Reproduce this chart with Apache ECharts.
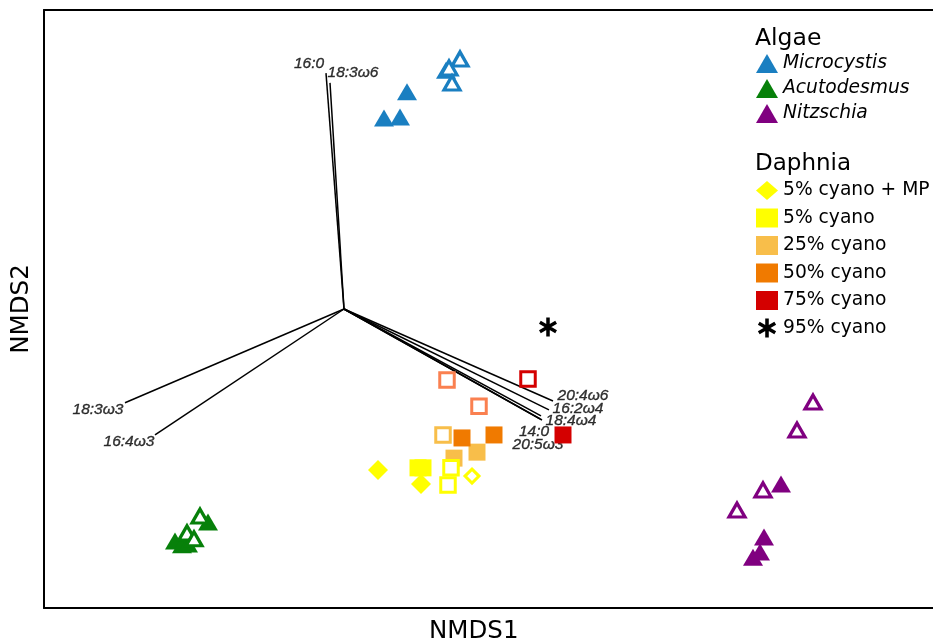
<!DOCTYPE html>
<html><head><meta charset="utf-8">
<script src="https://cdn.jsdelivr.net/npm/echarts/dist/echarts.min.js"></script>
<style>html,body{margin:0;padding:0;background:#fff}#c{width:933px;height:644px}</style>
</head><body><div id="c"></div>
<script>
// ---------- data (NMDS coordinates) ----------
const microcystisFilled = [[-0.274, 0.581], [-0.320, 0.511], [-0.288, 0.514], [-0.196, 0.639]];
const microcystisOpen   = [[-0.168, 0.669], [-0.190, 0.645], [-0.184, 0.605]];
const acutodesmusFilled = [[-0.738, -0.621], [-0.724, -0.631], [-0.712, -0.629], [-0.672, -0.570]];
const acutodesmusOpen   = [[-0.688, -0.554], [-0.714, -0.599], [-0.700, -0.615]];
const nitzschiaFilled   = [[0.474, -0.468], [0.440, -0.610], [0.432, -0.650], [0.418, -0.664]];
const nitzschiaOpen     = [[0.538, -0.249], [0.506, -0.324], [0.438, -0.484], [0.386, -0.538]];

const cyano5MPFilled = [[-0.332, -0.431], [-0.246, -0.468]];
const cyano5MPOpen   = [[-0.144, -0.447]];
const cyano5Filled   = [[-0.252, -0.425], [-0.242, -0.425]];
const cyano5Open     = [[-0.186, -0.425], [-0.192, -0.471]];
const cyano25Filled  = [[-0.180, -0.399], [-0.134, -0.383]];
const cyano25Open    = [[-0.202, -0.337]];
const cyano50Filled  = [[-0.164, -0.345], [-0.100, -0.337]];
const cyano50Open    = [[-0.194, -0.190], [-0.130, -0.260]];
const cyano75Filled  = [[0.038, -0.337]];
const cyano75Open    = [[-0.032, -0.187]];
const cyano95        = [[0.008, -0.048]];

const vectorOrigin = [-0.40, 0.0];
const vectorNames  = ['16:0', '18:3\u03c96', '18:3\u03c93', '16:4\u03c93', '20:4\u03c96', '16:2\u03c94', '18:4\u03c94', '14:0', '20:5\u03c93'];
const vectorEnds   = [[-0.436, 0.631], [-0.428, 0.605], [-0.838, -0.251], [-0.778, -0.337],
                      [0.018, -0.246], [0.010, -0.270], [-0.006, -0.286], [-0.004, -0.297], [-0.008, -0.294]];

const algaeLegend   = ['Microcystis', 'Acutodesmus', 'Nitzschia'];
const daphniaLegend = ['5% cyano + MP', '5% cyano', '25% cyano', '50% cyano', '75% cyano', '95% cyano'];

const xRange = [-1, 0.778];
const yRange = [-0.8, 0.8];

// ---------- styles ----------
const FONT = '"DejaVu Sans", "Liberation Sans", Arial, sans-serif';
const LFONT = '"Liberation Sans", Arial, sans-serif';
const labelOffsets = [[-17, -9], [23, -10], [-27, 7], [-26, 7], [30, -5], [29, -1], [30, 5], [-8, 12], [-2, 26]];
const ASTERISK = 'path://M1.5,-8L-1.5,-8L-1.5,8L1.5,8Z M7.68,-2.7L6.18,-5.3L-7.68,2.7L-6.18,5.3Z M-6.18,-5.3L-7.68,-2.7L6.18,5.3L7.68,2.7Z';

function filled(name, data, symbol, size, color) {
  return { type: 'scatter', name, data, symbol, symbolSize: size, z: 3,
    itemStyle: { color, opacity: 1 }, emphasis: { disabled: true } };
}
function open(name, data, symbol, size, color, bw) {
  return { type: 'scatter', name, data, symbol, symbolSize: size, z: 4,
    itemStyle: { color: '#ffffff', borderColor: color, borderWidth: bw, opacity: 1 }, emphasis: { disabled: true } };
}

const TRI = [20, 17], TRI_O = [16, 14];
const SQ_O = [14.5, 14.5];
const series = [
  { type: 'lines', coordinateSystem: 'cartesian2d', z: 1, silent: true,
    lineStyle: { color: '#000', width: 1.5, opacity: 1 },
    data: vectorEnds.map(e => ({ coords: [vectorOrigin, e] })) },
  { type: 'scatter', name: 'vecLabels', z: 2, symbolSize: 0, silent: true,
    data: vectorEnds.map((e, i) => ({ value: e, name: vectorNames[i],
      label: { show: true, position: 'inside', offset: labelOffsets[i], formatter: '{b}',
        fontFamily: LFONT, fontStyle: 'italic', fontSize: 15.5, color: '#000000',
        textBorderWidth: 0.35, textBorderColor: '#000000', textShadowBlur: 0 } })) },
  filled('Microcystis', microcystisFilled, 'triangle', TRI, '#1a7fc1'),
  open('Microcystis open', microcystisOpen, 'triangle', TRI_O, '#1a7fc1', 3.2),
  filled('Acutodesmus', acutodesmusFilled, 'triangle', TRI, '#07800a'),
  open('Acutodesmus open', acutodesmusOpen, 'triangle', TRI_O, '#07800a', 3.2),
  filled('Nitzschia', nitzschiaFilled, 'triangle', TRI, '#800080'),
  open('Nitzschia open', nitzschiaOpen, 'triangle', TRI_O, '#800080', 3.2),
  filled('5% cyano + MP', cyano5MPFilled, 'diamond', [20, 20], '#ffff00'),
  open('5% cyano + MP open', cyano5MPOpen, 'diamond', [14, 14], '#ffff00', 3),
  filled('5% cyano', cyano5Filled, 'rect', [17, 17], '#ffff00'),
  open('5% cyano open', cyano5Open, 'rect', SQ_O, '#ffff00', 3),
  filled('25% cyano', cyano25Filled, 'rect', [17, 17], '#f8be4a'),
  open('25% cyano open', cyano25Open, 'rect', SQ_O, '#f8be4a', 3),
  filled('50% cyano', cyano50Filled, 'rect', [17, 17], '#f07a00'),
  open('50% cyano open', cyano50Open, 'rect', SQ_O, '#fa8050', 3),
  filled('75% cyano', cyano75Filled, 'rect', [17, 17], '#d40000'),
  open('75% cyano open', cyano75Open, 'rect', SQ_O, '#d40000', 3),
  filled('95% cyano', cyano95, ASTERISK, [18, 19], '#000000')
];

const frameLine = { show: true, onZero: false, lineStyle: { color: '#000', width: 2 } };
const bareAxis = { axisTick: { show: false }, axisLabel: { show: false }, splitLine: { show: false } };
const legendText = { fontFamily: FONT, fontSize: 18.7, color: '#000', lineHeight: 17 };
const option = {
  animation: false,
  backgroundColor: '#ffffff',
  grid: { left: 44, top: 10, right: 0, bottom: 36 },
  xAxis: [
    Object.assign({ type: 'value', min: xRange[0], max: xRange[1], position: 'bottom', axisLine: frameLine }, bareAxis),
    Object.assign({ type: 'value', min: xRange[0], max: xRange[1], position: 'top', axisLine: frameLine }, bareAxis)
  ],
  yAxis: Object.assign({ type: 'value', min: yRange[0], max: yRange[1], position: 'left', axisLine: frameLine,
    name: 'NMDS2', nameLocation: 'middle', nameGap: 10, nameRotate: 90,
    nameTextStyle: { fontFamily: FONT, fontSize: 24.5, color: '#000' } }, bareAxis),
  title: [
    { text: 'Algae', left: 755, top: 27, padding: 0, textStyle: { fontFamily: FONT, fontSize: 23.5, fontWeight: 'normal', color: '#000' } },
    { text: 'Daphnia', left: 755, top: 153, padding: 0, textStyle: { fontFamily: FONT, fontSize: 23, fontWeight: 'normal', color: '#000' } }
  ],
  legend: [
    { data: algaeLegend, orient: 'vertical', left: 756, top: 54, padding: 0, itemWidth: 22, itemHeight: 19, itemGap: 6,
      selectedMode: false, textStyle: Object.assign({ fontStyle: 'italic' }, legendText) },
    { data: daphniaLegend, orient: 'vertical', left: 756, top: 181, padding: 0, itemWidth: 22, itemHeight: 19, itemGap: 8.5,
      selectedMode: false, textStyle: legendText }
  ],
  graphic: [
    { type: 'text', left: 429, top: 619, style: { text: 'NMDS1', fontFamily: FONT, fontSize: 24.5, fill: '#000' } }
  ],
  series
};
const chart = echarts.init(document.getElementById('c'), null, { renderer: 'canvas' });
chart.setOption(option);
</script></body></html>
